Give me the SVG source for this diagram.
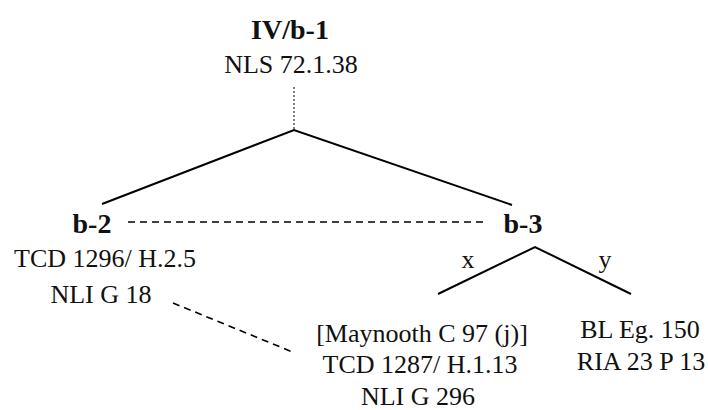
<svg xmlns="http://www.w3.org/2000/svg" width="708" height="410" viewBox="0 0 708 410">
<style>
text{font-family:'Liberation Serif','DejaVu Serif',serif;fill:#111;text-anchor:middle}
.t{font-size:26px}
.h{font-size:28px;font-weight:bold}
.s{stroke:#000;stroke-width:2;fill:none}
.d{stroke:#000;stroke-width:1.6;stroke-dasharray:7,5;fill:none}
.v{stroke:#000;stroke-width:1;stroke-dasharray:2,2;fill:none}
</style>
<rect width="708" height="410" fill="#fff"/>
<g id="connectors">
<line class="v" x1="294" y1="87" x2="294" y2="130"/>
<polyline class="s" points="102,204 294,130 512,205"/>
<line class="d" x1="128" y1="222" x2="487" y2="222"/>
<polyline class="s" points="438,294 535,247 631,294"/>
<line class="d" x1="173" y1="303" x2="295" y2="353"/>
</g>
<g id="n-iv-b-1">
<text class="h" x="290" y="39">IV/b-1</text>
<text class="t" x="291" y="73">NLS 72.1.38</text>
</g>
<g id="n-b-2">
<text class="h" x="92" y="233">b-2</text>
<text class="t" x="105" y="267">TCD 1296/ H.2.5</text>
<text class="t" x="101" y="303">NLI G 18</text>
</g>
<g id="n-b-3">
<text class="h" x="523" y="233">b-3</text>
</g>
<g id="labels">
<text class="t" x="468" y="268">x</text>
<text class="t" x="605" y="268">y</text>
</g>
<g id="n-x">
<text class="t" x="422" y="342">[Maynooth C 97 (j)]</text>
<text class="t" x="420" y="373">TCD 1287/ H.1.13</text>
<text class="t" x="418" y="405">NLI G 296</text>
</g>
<g id="n-y">
<text class="t" x="640" y="338">BL Eg. 150</text>
<text class="t" x="641" y="370">RIA 23 P 13</text>
</g>
</svg>
